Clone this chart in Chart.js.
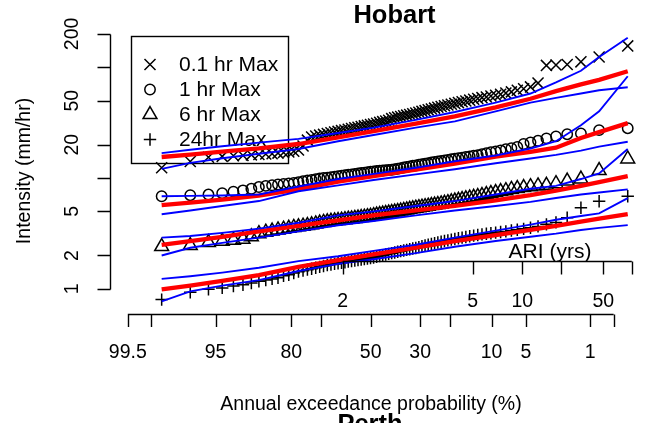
<!DOCTYPE html>
<html>
<head>
<meta charset="utf-8">
<script src="https://cdn.jsdelivr.net/npm/chart.js@4.4.1/dist/chart.umd.min.js"></script>
<style>
  body { margin: 0; background: #fff; }
  #wrap { width: 667px; height: 423px; }
</style>
</head>
<body>
<div id="wrap"><canvas id="ifd" width="667" height="423"></canvas></div>
<script>
// annual maximum intensities (mm/hr), smallest to largest
const max01hr = [12.4, 14.1, 15.4, 15.7, 15.9, 16.0, 16.2, 16.3, 16.5, 16.6,
  16.8, 17.0, 17.2, 17.5, 17.9, 19.5, 22.0, 23.5, 24.0, 24.4,
  24.8, 25.2, 25.6, 26.0, 26.4, 26.8, 27.2, 27.6, 28.0, 28.4,
  28.8, 29.2, 29.6, 30.0, 30.4, 30.8, 31.3, 31.8, 32.3, 32.8,
  33.3, 34.4, 35.0, 35.5, 36.0, 36.5, 37.0, 37.5, 38.0, 38.6,
  39.3, 40.0, 40.6, 41.3, 42.0, 42.8, 43.6, 44.3, 45.0, 45.6,
  46.4, 47.2, 48.0, 48.8, 49.6, 50.5, 51.4, 52.3, 53.2, 54.0,
  55.0, 56.0, 57.0, 58.5, 60.0, 62.0, 64.0, 66.5, 72.0, 104,
  105, 106, 112, 124, 156];
const max1hr = [6.85, 7.0, 7.1, 7.3, 7.55, 7.75, 8.0, 8.3, 8.5, 8.6,
  8.75, 8.85, 8.95, 9.05, 9.2, 9.35, 9.5, 9.6, 9.75, 9.9,
  10.0, 10.1, 10.2, 10.3, 10.4, 10.5, 10.6, 10.7, 10.8, 10.9,
  11.0, 11.1, 11.2, 11.3, 11.4, 11.5, 11.6, 11.65, 11.7, 11.8,
  11.85, 11.9, 12.0, 12.15, 12.3, 12.45, 12.6, 12.75, 12.9, 13.0,
  13.2, 13.35, 13.5, 13.65, 13.8, 13.95, 14.1, 14.3, 14.45, 14.6,
  14.8, 14.95, 15.1, 15.3, 15.5, 15.7, 15.9, 16.1, 16.4, 16.8,
  17.1, 17.4, 17.8, 18.2, 18.6, 19.1, 20.3, 21.0, 21.7, 22.8,
  23.8, 24.9, 25.3, 27.1, 28.2];
const max6hr = [2.41, 2.46, 2.62, 2.69, 2.75, 2.80, 2.95, 3.15, 3.25, 3.32,
  3.40, 3.46, 3.52, 3.58, 3.63, 3.68, 3.73, 3.78, 3.85, 3.92,
  3.98, 4.03, 4.07, 4.10, 4.13, 4.17, 4.21, 4.25, 4.28, 4.32,
  4.36, 4.40, 4.44, 4.48, 4.52, 4.58, 4.63, 4.68, 4.73, 4.78,
  4.83, 4.88, 4.93, 4.98, 5.04, 5.10, 5.16, 5.22, 5.28, 5.34,
  5.40, 5.46, 5.52, 5.58, 5.64, 5.70, 5.76, 5.84, 5.92, 6.00,
  6.10, 6.20, 6.30, 6.40, 6.50, 6.60, 6.70, 6.80, 6.95, 7.10,
  7.25, 7.40, 7.55, 7.70, 7.90, 8.05, 8.20, 8.35, 8.50, 8.60,
  8.90, 9.40, 9.80, 11.7, 14.9];
const max24hr = [0.80, 0.93, 0.99, 1.02, 1.06, 1.09, 1.13, 1.17, 1.20, 1.23,
  1.26, 1.31, 1.34, 1.39, 1.43, 1.46, 1.49, 1.52, 1.55, 1.58,
  1.61, 1.64, 1.66, 1.68, 1.70, 1.72, 1.74, 1.76, 1.78, 1.80,
  1.82, 1.84, 1.86, 1.88, 1.90, 1.92, 1.95, 1.98, 2.01, 2.04,
  2.07, 2.10, 2.13, 2.16, 2.19, 2.22, 2.25, 2.28, 2.31, 2.34,
  2.38, 2.42, 2.46, 2.50, 2.54, 2.58, 2.62, 2.66, 2.70, 2.74,
  2.78, 2.82, 2.86, 2.90, 2.94, 2.98, 3.02, 3.06, 3.10, 3.14,
  3.18, 3.22, 3.26, 3.30, 3.36, 3.42, 3.48, 3.56, 3.66, 3.82,
  3.98, 4.39, 5.39, 6.17, 6.85];

// fitted curve (red) and bounds (blue), read at these ranks of the sorted data
const fitRanks = [1, 2, 4, 8, 15, 25, 36, 50, 62, 72, 78, 81, 83, 84, 85];
const hi01hr = [16.8, 18.0, 19.4, 20.9, 22.6, 25.5, 28.5, 33.5, 39.5, 48, 58, 73, 93, 124, 185];
const fit01hr = [15.5, 16.3, 17.3, 18.5, 20.3, 23.3, 26.5, 31, 36, 43.5, 52, 61, 70, 77, 92];
const lo01hr = [12.1, 13.7, 15.1, 16.6, 18.3, 21.5, 24.5, 28.5, 32.5, 40, 48, 53, 58, 62, 66];
const hi1hr = [6.85, 6.9, 6.95, 7.1, 8.4, 9.8, 10.9, 12.4, 14.2, 16.0, 18.5, 21.5, 30, 40, 83];
const fit1hr = [5.7, 6.0, 6.4, 6.95, 7.9, 9.3, 10.4, 11.9, 13.5, 15.6, 17.2, 18.8, 23, 26, 31.3];
const lo1hr = [4.72, 5.1, 5.6, 6.2, 7.6, 8.6, 9.6, 10.8, 12.0, 13.6, 15.0, 16.2, 17.7, 19.2, 21.3];
const hi6hr = [2.9, 3.0, 3.2, 3.5, 3.95, 4.6, 5.0, 5.6, 6.2, 7.1, 8.0, 8.5, 9.8, 11.0, 18.3];
const fit6hr = [2.49, 2.7, 2.95, 3.3, 3.7, 4.15, 4.6, 5.1, 5.6, 6.3, 7.0, 7.7, 8.5, 9.2, 10.4];
const lo6hr = [2.0, 2.35, 2.6, 2.9, 3.3, 3.75, 4.1, 4.6, 5.1, 5.6, 6.1, 6.6, 7.1, 7.4, 7.9];
const hi24hr = [1.23, 1.3, 1.4, 1.55, 1.78, 1.97, 2.2, 2.5, 2.9, 3.35, 3.8, 4.2, 4.55, 4.8, 6.6];
const fit24hr = [0.99, 1.07, 1.18, 1.33, 1.58, 1.82, 2.05, 2.35, 2.7, 3.05, 3.4, 3.7, 4.05, 4.3, 4.72];
const lo24hr = [0.77, 0.95, 1.07, 1.2, 1.45, 1.68, 1.85, 2.1, 2.4, 2.7, 2.95, 3.15, 3.4, 3.55, 3.76];

// axis ticks
const aepTicks = [99.5, 99, 95, 90, 80, 70, 50, 30, 20, 10, 5, 1, 0.5];
const aepLabels = ["99.5", "", "95", "", "80", "", "50", "30", "", "10", "5", "1", ""];
const ariTicks = [2, 5, 10, 20, 50, 100];
const ariLabels = ["2", "5", "10", "", "50", ""];
const ariOnAep = [-0.297, 1.082, 1.608, 2.018, 2.467, 2.768]; // where each ARI tick sits on the probit scale
const yTicks = [1, 2, 5, 10, 20, 50, 100, 200];
const yLabels = ["1", "2", "5", "", "20", "50", "", "200"];

const FONT = "'Liberation Sans', Arial, Helvetica, sans-serif";

// inverse normal cdf (Acklam)
function qnorm(p) {
  const a = [-39.69683028665376, 220.9460984245205, -275.9285104469687, 138.3577518672690, -30.66479806614716, 2.506628277459239];
  const b = [-54.47609879822406, 161.5858368580409, -155.6989798598866, 66.80131188771972, -13.28068155288572];
  const c = [-7.784894002430293e-03, -0.3223964580411365, -2.400758277161838, -2.549732539343734, 4.374664141464968, 2.938163982698783];
  const d = [7.784695709041462e-03, 0.3224671290700398, 2.445134137142996, 3.754408661907416];
  const pl = 0.02425;
  let q, r;
  if (p < pl) {
    q = Math.sqrt(-2 * Math.log(p));
    return (((((c[0] * q + c[1]) * q + c[2]) * q + c[3]) * q + c[4]) * q + c[5]) /
      ((((d[0] * q + d[1]) * q + d[2]) * q + d[3]) * q + 1);
  }
  if (p > 1 - pl) {
    q = Math.sqrt(-2 * Math.log(1 - p));
    return -(((((c[0] * q + c[1]) * q + c[2]) * q + c[3]) * q + c[4]) * q + c[5]) /
      ((((d[0] * q + d[1]) * q + d[2]) * q + d[3]) * q + 1);
  }
  q = p - 0.5;
  r = q * q;
  return (((((a[0] * r + a[1]) * r + a[2]) * r + a[3]) * r + a[4]) * r + a[5]) * q /
    (((((b[0] * r + b[1]) * r + b[2]) * r + b[3]) * r + b[4]) * r + 1);
}

const aepToX = (aep) => qnorm(1 - aep / 100);

// plotting positions (rank/(n+1)) as they were placed in the original figure
const nYears = max01hr.length;
const ppCentre = 0.2545;
const ppSpread = 1.089;
const rankToX = (rank) => ppCentre + ppSpread * qnorm(rank / (nYears + 1));

const obsPoints = (vals) => vals.map((v, i) => ({ x: rankToX(i + 1), y: v }));
const curvePoints = (vals) => fitRanks.map((r, i) => ({ x: rankToX(r), y: vals[i] }));

const series = [
  { name: "0.1 hr Max", obs: max01hr, fit: fit01hr, lo: lo01hr, hi: hi01hr, style: "crossRot", size: 7.8 },
  { name: "1 hr Max", obs: max1hr, fit: fit1hr, lo: lo1hr, hi: hi1hr, style: "circle", size: 5.2 },
  { name: "6 hr Max", obs: max6hr, fit: fit6hr, lo: lo6hr, hi: hi6hr, style: "triangle", size: 8 },
  { name: "24hr Max", obs: max24hr, fit: fit24hr, lo: lo24hr, hi: hi24hr, style: "cross", size: 6.2 },
];

const datasets = [];
series.forEach((s) => {
  datasets.push({
    label: s.name,
    data: obsPoints(s.obs),
    pointStyle: s.style,
    pointRadius: s.size,
    pointBorderColor: "#000",
    pointBackgroundColor: "rgba(0,0,0,0)",
    pointBorderWidth: 1.5,
    showLine: false,
    order: 3,
  });
  datasets.push({
    label: s.name + " fit",
    data: curvePoints(s.fit),
    showLine: true,
    borderColor: "#ff0000",
    borderWidth: 4.3,
    pointRadius: 0,
    order: 2,
  });
  [s.hi, s.lo].forEach((b) => {
    datasets.push({
      label: s.name + " bound",
      data: curvePoints(b),
      showLine: true,
      borderColor: "#0000ff",
      borderWidth: 1.9,
      pointRadius: 0,
      order: 1,
    });
  });
});

// draws a legend symbol like R's pch
const drawSymbol = (ctx, style, x, y, size) => {
  ctx.beginPath();
  if (style === "crossRot") {
    const d = size * Math.SQRT1_2;
    ctx.moveTo(x - d, y - d); ctx.lineTo(x + d, y + d);
    ctx.moveTo(x + d, y - d); ctx.lineTo(x - d, y + d);
  } else if (style === "circle") {
    ctx.arc(x, y, size, 0, Math.PI * 2);
  } else if (style === "triangle") {
    for (let k = 0; k < 3; k++) {
      const a = k * 2 * Math.PI / 3;
      const px = x + Math.sin(a) * size;
      const py = y - Math.cos(a) * size;
      if (k === 0) ctx.moveTo(px, py); else ctx.lineTo(px, py);
    }
    ctx.closePath();
  } else {
    ctx.moveTo(x - size, y); ctx.lineTo(x + size, y);
    ctx.moveTo(x, y - size); ctx.lineTo(x, y + size);
  }
  ctx.stroke();
};

const rStyle = {
  id: "rStyle",
  beforeDatasetsDraw(chart) {
    const ctx = chart.ctx;
    ctx.save();
    ctx.strokeStyle = "#000";
    ctx.lineWidth = 1.4;
    ctx.strokeRect(131.5, 36.5, 157, 127);
    ctx.font = "21px " + FONT;
    ctx.fillStyle = "#000";
    ctx.textAlign = "left";
    ctx.textBaseline = "middle";
    series.forEach((s, i) => {
      const y = 64.5 + i * 25;
      ctx.lineWidth = 1.5;
      drawSymbol(ctx, s.style, 150, y, s.size);
      ctx.fillText(s.name, 179, y + 1);
    });
    ctx.restore();
  },
  afterDraw(chart) {
    const ctx = chart.ctx;
    const xs = chart.scales.x;
    const ys = chart.scales.y;
    ctx.save();
    ctx.strokeStyle = "#000";
    ctx.fillStyle = "#000";
    ctx.lineWidth = 1.4;

    // y axis
    const yAxisX = 110.5;
    ctx.beginPath();
    ctx.moveTo(yAxisX, Math.round(ys.getPixelForValue(yTicks[0])) + 0.5);
    ctx.lineTo(yAxisX, Math.round(ys.getPixelForValue(yTicks[yTicks.length - 1])) + 0.5);
    yTicks.forEach((t) => {
      const py = Math.round(ys.getPixelForValue(t)) + 0.5;
      ctx.moveTo(yAxisX, py);
      ctx.lineTo(yAxisX - 13, py);
    });
    ctx.stroke();
    ctx.font = "19.5px " + FONT;
    ctx.textAlign = "center";
    ctx.textBaseline = "middle";
    yTicks.forEach((t, i) => {
      if (!yLabels[i]) return;
      ctx.save();
      ctx.translate(73, ys.getPixelForValue(t));
      ctx.rotate(-Math.PI / 2);
      ctx.fillText(yLabels[i], 0, 0);
      ctx.restore();
    });

    // AEP axis
    const aepY = 314.5;
    ctx.beginPath();
    ctx.moveTo(xs.getPixelForValue(aepToX(aepTicks[0])), aepY);
    ctx.lineTo(xs.getPixelForValue(aepToX(aepTicks[aepTicks.length - 1])), aepY);
    aepTicks.forEach((t) => {
      const px = Math.round(xs.getPixelForValue(aepToX(t))) + 0.5;
      ctx.moveTo(px, aepY);
      ctx.lineTo(px, aepY + 12.5);
    });
    ctx.stroke();
    aepTicks.forEach((t, i) => {
      if (!aepLabels[i]) return;
      ctx.fillText(aepLabels[i], xs.getPixelForValue(aepToX(t)), 353);
    });

    // ARI axis inside the plot
    const ariY = 261.5;
    ctx.beginPath();
    ctx.moveTo(xs.getPixelForValue(ariOnAep[0]), ariY);
    ctx.lineTo(xs.getPixelForValue(ariOnAep[ariOnAep.length - 1]), ariY);
    ariTicks.forEach((t, i) => {
      const px = Math.round(xs.getPixelForValue(ariOnAep[i])) + 0.5;
      ctx.moveTo(px, ariY);
      ctx.lineTo(px, ariY + 13);
    });
    ctx.stroke();
    ariTicks.forEach((t, i) => {
      if (!ariLabels[i]) return;
      ctx.fillText(ariLabels[i], xs.getPixelForValue(ariOnAep[i]), 302);
    });
    ctx.font = "21px " + FONT;
    ctx.fillText("ARI (yrs)", 550, 252);

    // titles
    ctx.font = "19.5px " + FONT;
    ctx.fillText("Annual exceedance probability (%)", 371, 405);
    ctx.save();
    ctx.translate(25, 171);
    ctx.rotate(-Math.PI / 2);
    ctx.fillText("Intensity (mm/hr)", 0, 0);
    ctx.restore();
    ctx.font = "bold 25.5px " + FONT;
    ctx.fillText("Hobart", 394.5, 16);
    ctx.textBaseline = "alphabetic";
    ctx.fillText("Perth", 370, 432);
    ctx.restore();
  },
};

new Chart(document.getElementById("ifd"), {
  type: "scatter",
  data: { datasets },
  options: {
    responsive: false,
    animation: false,
    layout: { padding: { left: 120, right: 27, top: 30, bottom: 117 } },
    plugins: { legend: { display: false }, tooltip: { enabled: false } },
    scales: {
      x: { type: "linear", display: false, min: -2.6585, max: 2.8558 },
      y: { type: "logarithmic", display: false, min: 0.734, max: 217.1 },
    },
  },
  plugins: [rStyle],
});
</script>
</body>
</html>
